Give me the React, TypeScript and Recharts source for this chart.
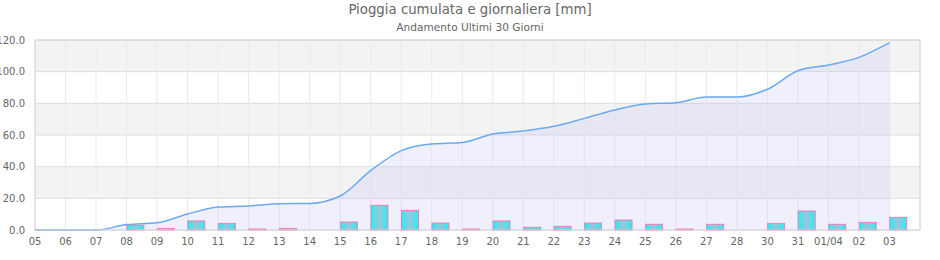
import {
    Area,
    Bar,
    CartesianGrid,
    ComposedChart,
    ReferenceLine,
    XAxis,
    YAxis,
} from "recharts"

// Giorni (etichette asse X)
const days = [
    "05", "06", "07", "08", "09", "10", "11", "12", "13", "14",
    "15", "16", "17", "18", "19", "20", "21", "22", "23", "24",
    "25", "26", "27", "28", "30", "31", "01/04", "02", "03",
]

// Pioggia giornaliera [mm]
const daily = [
    0, 0, 0, 3.0, 1.0, 5.7, 4.2, 0.6, 1.0, 0,
    5.0, 15.6, 12.4, 4.4, 0.6, 5.7, 1.7, 2.3, 4.4, 6.3,
    3.6, 0.6, 3.6, 0, 4.2, 12.0, 3.6, 4.8, 8.0,
]

// Pioggia cumulata [mm]
const cumulative = [
    0, 0, 0, 3.4, 4.6, 10.1, 14.5, 15.2, 16.6, 16.8,
    21.5, 37.5, 50.1, 54.3, 55.2, 60.6, 62.5, 65.5, 70.5, 75.8,
    79.6, 80.4, 84.0, 84.0, 88.9, 100.6, 104.2, 109.0, 118.3,
]

const yTicks = [0, 20, 40, 60, 80, 100, 120]

const data = days.map((d, i) => ({
    i,
    label: d,
    daily: daily[i],
    cumulative: cumulative[i],
}))

const xTicks = days.map((_, i) => i)

// barra spostata a destra del tick
const BarShape = (props: any) => {
    const { x, y, width, height } = props
    if (!height || height <= 0) return null
    return (
        <rect
            x={x + width / 2}
            y={y}
            width={width}
            height={height}
            fill="url(#barGrad)"
            stroke="#f57ab8"
            strokeWidth={1}
        />
    )
}

export default function App() {
    const font = "'DejaVu Sans', Verdana, sans-serif"
    return (
        <div style={{ position: "absolute", left: 0, top: 0, width: 940, height: 260, fontFamily: font }}>
            <div style={{ position: "absolute", top: 2, width: 940, textAlign: "center", fontSize: 13.3, color: "#666" }}>
                Pioggia cumulata e giornaliera [mm]
            </div>
            <div style={{ position: "absolute", top: 21, width: 940, textAlign: "center", fontSize: 10.6, color: "#666" }}>
                Andamento Ultimi 30 Giorni
            </div>
            <ComposedChart
                width={940}
                height={260}
                data={data}
                margin={{ top: 40, right: 20, left: 0, bottom: 0 }}
            >
                <defs>
                    <linearGradient id="barGrad" x1="0" y1="0" x2="1" y2="0">
                        <stop offset="0%" stopColor="#1ff2f2" />
                        <stop offset="50%" stopColor="#9dc5dc" />
                        <stop offset="100%" stopColor="#1ff2f2" />
                    </linearGradient>
                </defs>
                <CartesianGrid
                    vertical={false}
                    stroke="#dddddd"
                    horizontalFill={["#f3f3f3", "#ffffff"]}
                    fillOpacity={1}
                />
                <CartesianGrid horizontal={false} stroke="#e8e8fa" />
                <XAxis
                    dataKey="i"
                    type="number"
                    domain={[0, 29]}
                    ticks={xTicks}
                    interval={0}
                    tickFormatter={(v) => days[v] ?? ""}
                    tickLine={false}
                    axisLine={{ stroke: "#d4d4d4" }}
                    tick={{ fill: "#666", fontSize: 10, fontFamily: font }}
                    tickMargin={2}
                    height={30}
                />
                <YAxis
                    type="number"
                    domain={[0, 120]}
                    ticks={yTicks}
                    interval={0}
                    tickFormatter={(v) => Number(v).toFixed(1)}
                    tickLine={false}
                    axisLine={{ stroke: "#d4d4d4" }}
                    tick={{ fill: "#666", fontSize: 10, fontFamily: font }}
                    tickMargin={4}
                    width={35}
                />
                <ReferenceLine y={120} stroke="#d4d4d4" />
                <ReferenceLine x={29} stroke="#d4d4d4" />
                <Area
                    type="monotone"
                    dataKey="cumulative"
                    stroke="#6aaaf0"
                    strokeWidth={1.5}
                    fill="#c8c8f5"
                    fillOpacity={0.28}
                    dot={false}
                    activeDot={false}
                    isAnimationActive={false}
                />
                <Bar
                    dataKey="daily"
                    barSize={17}
                    shape={BarShape}
                    isAnimationActive={false}
                />
            </ComposedChart>
        </div>
    )
}
